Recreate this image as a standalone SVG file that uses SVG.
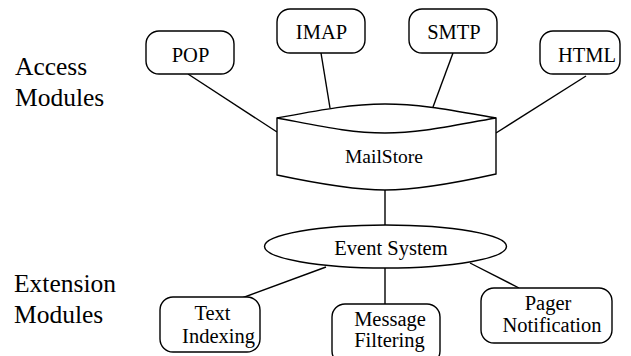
<svg xmlns="http://www.w3.org/2000/svg" width="631" height="356" viewBox="0 0 631 356" font-family="'Liberation Serif', 'Times New Roman', 'DejaVu Serif', serif">
<style>
.box{fill:#fff;stroke:#000;stroke-width:1.4}
.ln{fill:none;stroke:#000;stroke-width:1.4}
text{fill:#000}
.t{font-size:20.5px;text-anchor:middle}
.big{font-size:25.5px}
</style>
<rect width="631" height="356" fill="#fff"/>
<g id="connectors">
<line class="ln" x1="188" y1="74" x2="277" y2="132"/>
<line class="ln" x1="321" y1="53" x2="330" y2="108"/>
<line class="ln" x1="453" y1="53" x2="433" y2="107"/>
<line class="ln" x1="586" y1="76" x2="496" y2="133"/>
<line class="ln" x1="385" y1="190" x2="385" y2="225"/>
<line class="ln" x1="326" y1="267" x2="242" y2="298"/>
<line class="ln" x1="385" y1="268" x2="385" y2="304"/>
<line class="ln" x1="470" y1="263" x2="519" y2="288"/>
</g>
<g id="label-access">
<text class="big" x="15" y="75">Access</text>
<text class="big" x="15" y="106">Modules</text>
</g>
<g id="label-extension">
<text class="big" x="14" y="292">Extension</text>
<text class="big" x="14" y="323">Modules</text>
</g>
<g id="pop">
<rect class="box" x="146" y="31" width="88" height="43" rx="13"/>
<text class="t" x="190.5" y="61.5">POP</text>
</g>
<g id="imap">
<rect class="box" x="277" y="9" width="88" height="44" rx="13"/>
<text class="t" x="321.5" y="39">IMAP</text>
</g>
<g id="smtp">
<rect class="box" x="409" y="9" width="88" height="44" rx="13"/>
<text class="t" x="454" y="39">SMTP</text>
</g>
<g id="html">
<rect class="box" x="540" y="31" width="80" height="43" rx="13"/>
<text class="t" x="587" y="61.5">HTML</text>
</g>
<g id="mailstore">
<path class="box" d="M277,118 C320,110 350,104 385,104 C420,104 450,110 496,118 L496,174 C460,182 420,190 385,190 C350,190 310,182 277,175 Z"/>
<path class="ln" d="M277,118 C320,126 350,133 385,133 C420,133 450,126 496,118"/>
<text class="t" x="384" y="163" style="font-size:19.5px">MailStore</text>
</g>
<g id="event-system">
<ellipse class="box" cx="385.5" cy="246.5" rx="121" ry="21.5"/>
<text class="t" x="391" y="255">Event System</text>
</g>
<g id="text-indexing">
<rect class="box" x="160" y="297" width="100" height="55" rx="13"/>
<text class="t" x="212.5" y="319.5">Text</text>
<text class="t" x="218.5" y="343">Indexing</text>
</g>
<g id="message-filtering">
<rect class="box" x="332" y="304" width="108" height="60" rx="13"/>
<text class="t" x="390" y="326">Message</text>
<text class="t" x="389.5" y="347">Filtering</text>
</g>
<g id="pager-notification">
<rect class="box" x="481" y="288" width="131" height="55" rx="13"/>
<text class="t" x="548" y="309.5">Pager</text>
<text class="t" x="552" y="331.5">Notification</text>
</g>
</svg>
